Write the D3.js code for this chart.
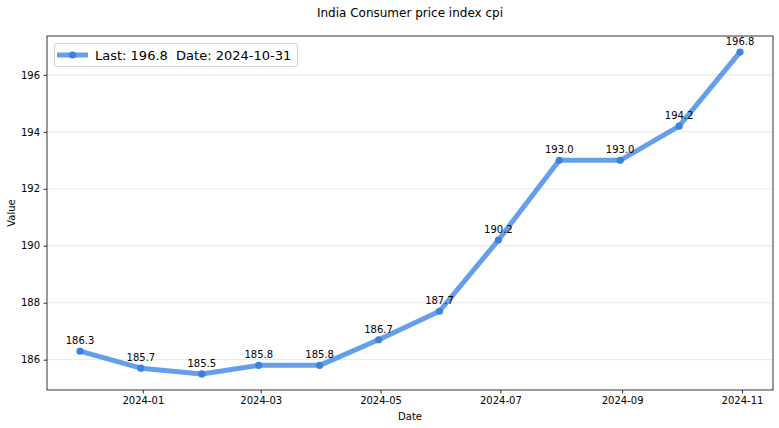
<!DOCTYPE html>
<html><head><meta charset="utf-8">
<script src="https://cdn.jsdelivr.net/npm/d3@7"></script>
<style>body{margin:0;background:#fff;font-family:"DejaVu Sans",sans-serif;}</style>
</head><body><svg id="c" width="779" height="428"></svg>
<script>
const dates = ["2023-11-30","2023-12-31","2024-01-31","2024-02-29","2024-03-31","2024-04-30","2024-05-31","2024-06-30","2024-07-31","2024-08-31","2024-09-30","2024-10-31"];
const values = [186.3,185.7,185.5,185.8,185.8,186.7,187.7,190.2,193.0,193.0,194.2,196.8];
const xTicks = ["2024-01-01","2024-03-01","2024-05-01","2024-07-01","2024-09-01","2024-11-01"];
const yTicks = [186,188,190,192,194,196];
const title = "India Consumer price index cpi";
const legendText = "Last: 196.8  Date: 2024-10-31";

const svg = d3.select("#c");
const L=47,R=773,T=36,B=390;
const parse = d3.utcParse("%Y-%m-%d");
const dd = dates.map(parse);
const x0=dd[0], x1=dd[dd.length-1], span=x1-x0;
const x = d3.scaleUtc().domain([new Date(+x0-span*0.05), new Date(+x1+span*0.05)]).range([L,R]);
const vmin=d3.min(values), vmax=d3.max(values), vs=vmax-vmin;
const y = d3.scaleLinear().domain([vmin-vs*0.05, vmax+vs*0.05]).range([B,T]);

// grid
svg.append("g").selectAll("line").data(yTicks).join("line")
  .attr("x1",L).attr("x2",R).attr("y1",d=>y(d)).attr("y2",d=>y(d))
  .attr("stroke","#e3e3e3").attr("stroke-width",0.8);

const fmt = d3.utcFormat("%Y-%m");
const xa = svg.append("g").attr("transform",`translate(0,${B})`)
  .call(d3.axisBottom(x).tickValues(xTicks.map(parse)).tickFormat(fmt).tickSizeOuter(0).tickSize(3.5).tickPadding(3.5));
const ya = svg.append("g").attr("transform",`translate(${L},0)`)
  .call(d3.axisLeft(y).tickValues(yTicks).tickFormat(d3.format("d")).tickSizeOuter(0).tickSize(3.5).tickPadding(3.5));
[xa,ya].forEach(g=>{g.select(".domain").remove();g.selectAll("text").attr("font-size","10px").attr("font-family","DejaVu Sans").attr("fill","#000");g.selectAll("line").attr("stroke","#000").attr("stroke-width",0.8);});

svg.append("rect").attr("x",L).attr("y",T).attr("width",R-L).attr("height",B-T)
  .attr("fill","none").attr("stroke","#000").attr("stroke-width",0.8);

const line = d3.line().x((d,i)=>x(dd[i])).y(d=>y(d));
svg.append("path").datum(values).attr("d",line).attr("fill","none")
  .attr("stroke","#4a8ee6").attr("stroke-opacity",0.85).attr("stroke-width",5).attr("stroke-linejoin","round");
svg.append("g").selectAll("circle").data(values).join("circle")
  .attr("cx",(d,i)=>x(dd[i])).attr("cy",d=>y(d)).attr("r",3.6).attr("fill","#3b82e0");
svg.append("g").selectAll("text").data(values).join("text")
  .attr("x",(d,i)=>x(dd[i])).attr("y",d=>y(d)-7).attr("text-anchor","middle")
  .attr("font-size","10px").attr("fill","#000").text(d=>d.toFixed(1));

svg.append("text").attr("x",(L+R)/2).attr("y",17).attr("text-anchor","middle").attr("font-size","12px").text(title);
svg.append("text").attr("x",(L+R)/2).attr("y",420).attr("text-anchor","middle").attr("font-size","10px").text("Date");
svg.append("text").attr("transform",`translate(15,${(T+B)/2}) rotate(-90)`).attr("text-anchor","middle").attr("font-size","10px").text("Value");

// legend
const lg = svg.append("g");
lg.append("rect").attr("x",54.5).attr("y",43.5).attr("width",243).attr("height",23).attr("rx",2.5)
  .attr("fill","#fff").attr("fill-opacity",0.8).attr("stroke","#d0d0d0");
lg.append("line").attr("x1",57).attr("x2",88).attr("y1",55).attr("y2",55).attr("stroke","#4a8ee6").attr("stroke-opacity",0.85).attr("stroke-width",5);
lg.append("circle").attr("cx",72.5).attr("cy",55).attr("r",3.6).attr("fill","#3b82e0");
lg.append("text").attr("x",95).attr("y",60).attr("font-size","13px").style("white-space","pre").text(legendText);
</script></body></html>
